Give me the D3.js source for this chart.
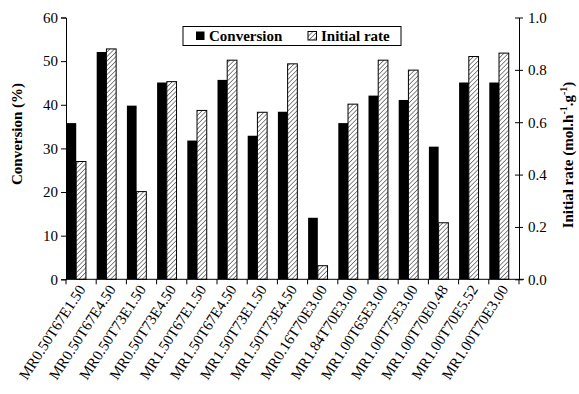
<!DOCTYPE html>
<html>
<head>
<meta charset="utf-8">
<script src="https://cdn.jsdelivr.net/npm/d3@7"></script>
<style>
  html, body { margin: 0; padding: 0; background: #fff; }
  svg { display: block; }
</style>
</head>
<body>
<svg id="chart" width="579" height="394"></svg>
<script>
// Catalyst runs (molar ratio, temperature, enzyme load)
const categories = [
  "MR0.50T67E1.50", "MR0.50T67E4.50", "MR0.50T73E1.50", "MR0.50T73E4.50",
  "MR1.50T67E1.50", "MR1.50T67E4.50", "MR1.50T73E1.50", "MR1.50T73E4.50",
  "MR0.16T70E3.00", "MR1.84T70E3.00", "MR1.00T65E3.00", "MR1.00T75E3.00",
  "MR1.00T70E0.48", "MR1.00T70E5.52", "MR1.00T70E3.00"
];
// Conversion (%)
const conversion = [35.8, 52.1, 39.8, 45.1, 31.8, 45.7, 32.9, 38.4, 14.1, 35.8, 42.1, 41.1, 30.4, 45.1, 45.1];
// Initial rate (mol.h-1.g-1)
const initialRate = [0.45, 0.88, 0.335, 0.755, 0.645, 0.837, 0.638, 0.823, 0.052, 0.669, 0.837, 0.799, 0.216, 0.851, 0.864];

const leftTicks = [0, 10, 20, 30, 40, 50, 60];
const rightTicks = [0, 0.2, 0.4, 0.6, 0.8, 1.0];

const FONT = "'Liberation Serif', 'Times New Roman', Times, 'DejaVu Serif', serif";

const svg = d3.select("#chart").attr("font-family", FONT);
const m = { left: 66, right: 519, top: 17.5, bottom: 279.3 };

const x = d3.scaleBand().domain(categories).range([m.left, m.right]).padding(0);
const series = d3.scaleBand().domain(["conv", "rate"])
  .range([0.5, x.bandwidth() * 0.66]).padding(0);
const yL = d3.scaleLinear().domain([0, 60]).range([m.bottom, m.top]);
const yR = d3.scaleLinear().domain([0, 1]).range([m.bottom, m.top]);

// diagonal hatch fill
const defs = svg.append("defs");
const pat = defs.append("pattern")
  .attr("id", "hatch").attr("patternUnits", "userSpaceOnUse")
  .attr("width", 3.2).attr("height", 3.2)
  .attr("patternTransform", "rotate(45)");
pat.append("rect").attr("width", 3.2).attr("height", 3.2).attr("fill", "#fff");
pat.append("line").attr("x1", 0).attr("y1", 0).attr("x2", 0).attr("y2", 3.2)
  .attr("stroke", "#555").attr("stroke-width", 1.4);

// bars
const g = svg.append("g");
g.selectAll("rect.conv").data(categories).join("rect")
  .attr("class", "conv")
  .attr("x", (d) => x(d) + series("conv"))
  .attr("width", series.bandwidth())
  .attr("y", (d, i) => yL(conversion[i]))
  .attr("height", (d, i) => m.bottom - yL(conversion[i]))
  .attr("fill", "#000");

g.selectAll("rect.rate").data(categories).join("rect")
  .attr("class", "rate")
  .attr("x", (d) => x(d) + series("rate"))
  .attr("width", series.bandwidth())
  .attr("y", (d, i) => yR(initialRate[i]))
  .attr("height", (d, i) => m.bottom - yR(initialRate[i]))
  .attr("fill", "url(#hatch)")
  .attr("stroke", "#000").attr("stroke-width", 1);

// left axis
const axL = svg.append("g").attr("transform", `translate(${m.left},0)`)
  .call(d3.axisLeft(yL).tickValues(leftTicks).tickSize(5).tickPadding(3));
axL.attr("font-family", FONT);
axL.selectAll("text").attr("font-size", 15).attr("fill", "#000");

// right axis with crossing ticks
const axR = svg.append("g").attr("transform", `translate(${m.right},0)`)
  .call(d3.axisRight(yR).tickValues(rightTicks).tickFormat(d3.format(".1f"))
    .tickSizeInner(4).tickSizeOuter(0).tickPadding(5));
axR.attr("font-family", FONT);
axR.selectAll(".tick line").attr("x1", -4).attr("x2", 4);
axR.selectAll("text").attr("font-size", 15).attr("fill", "#000");

// bottom axis: ticks at category boundaries
const axB = svg.append("g").attr("transform", `translate(0,${m.bottom})`);
axB.append("line").attr("x1", m.left).attr("x2", m.right + 5)
  .attr("stroke", "#000");
const bounds = categories.map((d) => x(d)).concat([m.right]);
axB.selectAll("line.tk").data(bounds).join("line")
  .attr("class", "tk")
  .attr("x1", (d) => d).attr("x2", (d) => d)
  .attr("y1", 0).attr("y2", 5).attr("stroke", "#000");
axB.selectAll("text").data(categories).join("text")
  .attr("transform", (d) => `translate(${x(d) + x.bandwidth() / 2 + 5},${10}) rotate(-57)`)
  .attr("text-anchor", "end")
  .attr("font-size", 15)
  .text((d) => d);

svg.selectAll(".domain").attr("stroke", "#000");
svg.selectAll(".tick line").attr("stroke", "#000");

// axis titles
svg.append("text")
  .attr("transform", `translate(22,134) rotate(-90)`)
  .attr("text-anchor", "middle").attr("font-weight", "bold").attr("font-size", 15)
  .text("Conversion (%)");

const rt = svg.append("text")
  .attr("transform", `translate(573,155) rotate(-90)`)
  .attr("text-anchor", "middle").attr("font-weight", "bold").attr("font-size", 15);
rt.append("tspan").text("Initial rate (mol.h");
rt.append("tspan").attr("dy", -6).attr("font-size", 10).text("-1");
rt.append("tspan").attr("dy", 6).text(".g");
rt.append("tspan").attr("dy", -6).attr("font-size", 10).text("-1");
rt.append("tspan").attr("dy", 6).text(")");

// legend
const lg = svg.append("g");
lg.append("rect").attr("x", 183).attr("y", 26.5).attr("width", 218).attr("height", 19)
  .attr("fill", "#fff").attr("stroke", "#000");
lg.append("rect").attr("x", 196).attr("y", 31.5).attr("width", 8.5).attr("height", 8.5)
  .attr("fill", "#000");
lg.append("text").attr("x", 209).attr("y", 41).attr("font-weight", "bold")
  .attr("font-size", 15).text("Conversion");
lg.append("rect").attr("x", 308).attr("y", 31.5).attr("width", 8.5).attr("height", 8.5)
  .attr("fill", "url(#hatch)").attr("stroke", "#000");
lg.append("text").attr("x", 321).attr("y", 41).attr("font-weight", "bold")
  .attr("font-size", 15).text("Initial rate");
</script>
</body>
</html>
